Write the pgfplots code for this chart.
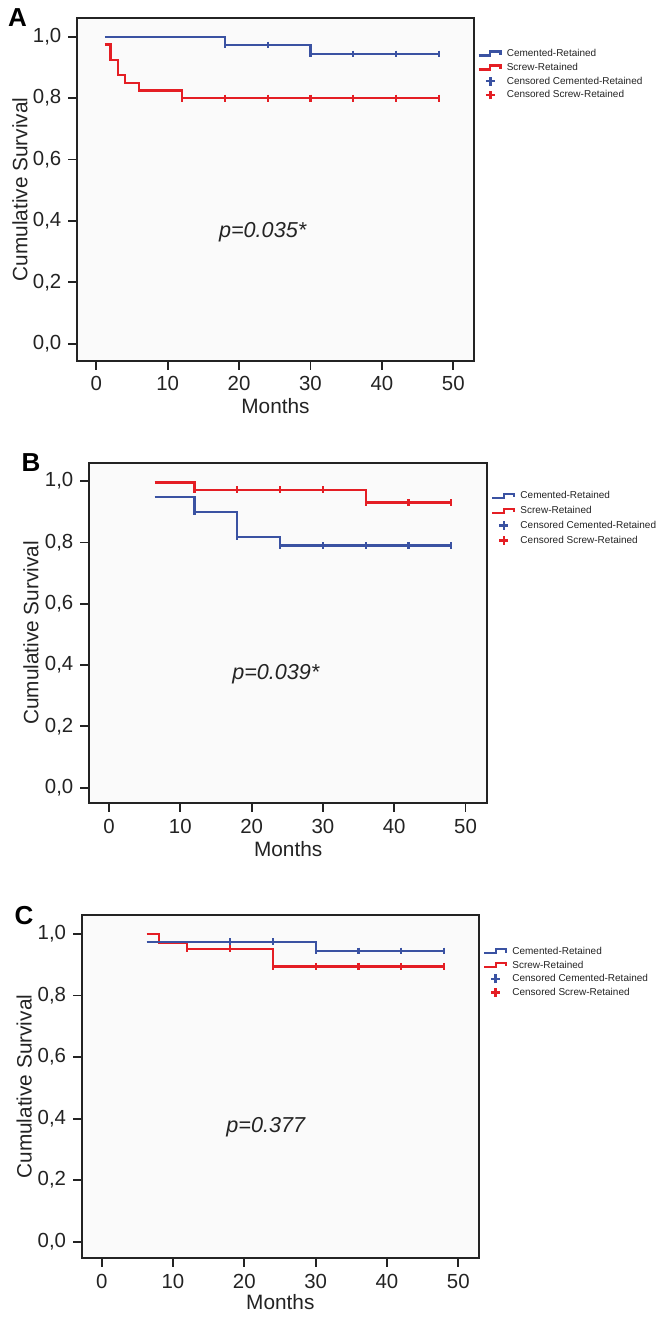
\documentclass[border=0pt]{standalone}
\usepackage{fontspec}
\setmainfont{Liberation Sans}
\usepackage{pgfplots}
\pgfplotsset{compat=1.18}
\definecolor{kmblue}{RGB}{58,82,162}
\definecolor{kmred}{RGB}{228,30,36}
\definecolor{kmtext}{RGB}{35,35,35}
\pgfplotsset{
  km/.style={
    scale only axis,
    axis line style={draw=kmtext, line width=1pt},
    tick style={draw=kmtext, line width=0.9pt},
    tick align=outside, major tick length=4.3pt,
    xtick pos=left, ytick pos=left,
    xtick={0,10,20,30,40,50}, xticklabels={0,10,20,30,40,50},
    ytick={0,0.2,0.4,0.6,0.8,1.0},
    yticklabels={{0,0},{0,2},{0,4},{0,6},{0,8},{1,0}},
    axis background/.style={fill=black!2},
    ticklabel style={font=\fontsize{10.2}{12}\selectfont, text=kmtext},
    label style={font=\fontsize{10.4}{12}\selectfont, text=kmtext},
    xlabel={Months}, ylabel={Cumulative Survival},
    legend cell align=left,
    legend style={draw=none, fill=none, anchor=north west,
      font=\fontsize{5}{6}\selectfont, inner sep=0pt, row sep=0.9pt, column sep=2pt,
      nodes={inner sep=0.5pt, text height=4pt, text depth=1pt, text=kmtext}},
  },
  bline/.style={color=kmblue, line width=1.15pt, const plot, no marks,
    legend image code/.code={\draw[kmblue, line width=1.2pt] (0pt,-1pt)--(5.8pt,-1pt)--(5.8pt,1pt)--(11pt,1pt)--(11pt,-0.7pt);}},
  rline/.style={color=kmred, line width=1.15pt, const plot, no marks,
    legend image code/.code={\draw[kmred, line width=1.2pt] (0pt,-1pt)--(5.8pt,-1pt)--(5.8pt,1pt)--(11pt,1pt)--(11pt,-0.7pt);}},
  bcens/.style={color=kmblue, only marks, mark=|, mark size=1.7pt, mark options={line width=1.05pt},
    legend image code/.code={\draw[kmblue, line width=1.35pt] (5.8pt,-2.2pt)--(5.8pt,2.2pt) (3.6pt,0pt)--(8pt,0pt);}},
  rcens/.style={color=kmred, only marks, mark=|, mark size=1.7pt, mark options={line width=1.05pt},
    legend image code/.code={\draw[kmred, line width=1.35pt] (5.8pt,-2.2pt)--(5.8pt,2.2pt) (3.6pt,0pt)--(8pt,0pt);}},
}
\begin{document}
\begin{tikzpicture}
\useasboundingbox (0,0) rectangle (330.5pt,659pt);
% ---------------- Panel A ----------------
\begin{axis}[km, at={(38.5pt,478.5pt)}, anchor=south west,
  width=198.5pt, height=171.5pt,
  xmin=-2.7, xmax=52.9, ymin=-0.056, ymax=1.061,
  ylabel style={at={(axis description cs:-0.1436,0.5)}, anchor=center},
  xlabel style={at={(axis description cs:0.5,-0.131)}, anchor=center},
  legend style={at={(axis description cs:1.0076,0.915)}}]
\addplot[bline] coordinates {(1.2,1.0) (18,0.973) (30,0.944) (48,0.944)};
\addlegendentry{Cemented-Retained}
\addplot[rline] coordinates {(1.2,0.975) (2,0.925) (3,0.875) (4,0.85) (6,0.825) (12,0.80) (48,0.80)};
\addlegendentry{Screw-Retained}
\addplot[bcens] coordinates {(18,0.973) (24,0.973) (30,0.944) (36,0.944) (42,0.944) (48,0.944)};
\addlegendentry{Censored Cemented-Retained}
\addplot[rcens] coordinates {(12,0.80) (18,0.80) (24,0.80) (30,0.80) (36,0.80) (42,0.80) (48,0.80)};
\addlegendentry{Censored Screw-Retained}
\node[font=\itshape\fontsize{10.8}{12}\selectfont, text=kmtext] at (axis cs:23.3,0.363) {p=0.035*};
\end{axis}
% ---------------- Panel B ----------------
\begin{axis}[km, at={(44.5pt,257.35pt)}, anchor=south west,
  width=199.15pt, height=170.3pt,
  xmin=-2.8, xmax=53.05, ymin=-0.051, ymax=1.06,
  ylabel style={at={(axis description cs:-0.1456,0.5)}, anchor=center},
  xlabel style={at={(axis description cs:0.5,-0.135)}, anchor=center},
  legend style={at={(axis description cs:1.0085,0.921)}, row sep=1.4pt}]
\addplot[bline] coordinates {(6.4,0.947) (12,0.90) (18,0.818) (24,0.79) (48,0.79)};
\addlegendentry{Cemented-Retained}
\addplot[rline] coordinates {(6.4,0.995) (12,0.972) (36,0.93) (48,0.93)};
\addlegendentry{Screw-Retained}
\addplot[bcens] coordinates {(12,0.90) (18,0.818) (24,0.79) (30,0.79) (36,0.79) (42,0.79) (48,0.79)};
\addlegendentry{Censored Cemented-Retained}
\addplot[rcens] coordinates {(12,0.972) (18,0.972) (24,0.972) (30,0.972) (36,0.93) (42,0.93) (48,0.93)};
\addlegendentry{Censored Screw-Retained}
\node[font=\itshape\fontsize{10.8}{12}\selectfont, text=kmtext] at (axis cs:23.4,0.371) {p=0.039*};
\end{axis}
% ---------------- Panel C ----------------
\begin{axis}[km, at={(40.85pt,29.85pt)}, anchor=south west,
  width=198.65pt, height=171.65pt,
  xmin=-2.8, xmax=52.9, ymin=-0.054, ymax=1.062,
  ylabel style={at={(axis description cs:-0.145,0.5)}, anchor=center},
  xlabel style={at={(axis description cs:0.5,-0.128)}, anchor=center},
  legend style={at={(axis description cs:1.009,0.913)}}]
\addplot[rline, forget plot] coordinates {(6.3,1.0) (8,0.97) (12,0.952) (24,0.895) (48,0.895)};
\addplot[bline] coordinates {(6.3,0.975) (30,0.945) (48,0.945)};
\addlegendentry{Cemented-Retained}
\addlegendimage{rline}
\addlegendentry{Screw-Retained}
\addplot[bcens] coordinates {(18,0.975) (24,0.975) (30,0.945) (36,0.945) (42,0.945) (48,0.945)};
\addlegendentry{Censored Cemented-Retained}
\addplot[rcens] coordinates {(12,0.952) (18,0.952) (24,0.895) (30,0.895) (36,0.895) (42,0.895) (48,0.895)};
\addlegendentry{Censored Screw-Retained}
\node[font=\itshape\fontsize{10.8}{12}\selectfont, text=kmtext] at (axis cs:23.0,0.371) {p=0.377};
\end{axis}
% panel letters
\node[font=\bfseries\fontsize{13}{13}\selectfont, text=black] at (8.75pt,650.25pt) {A};
\node[font=\bfseries\fontsize{13}{13}\selectfont, text=black] at (15.5pt,427.75pt) {B};
\node[font=\bfseries\fontsize{13}{13}\selectfont, text=black] at (12pt,201pt) {C};
\end{tikzpicture}
\end{document}
